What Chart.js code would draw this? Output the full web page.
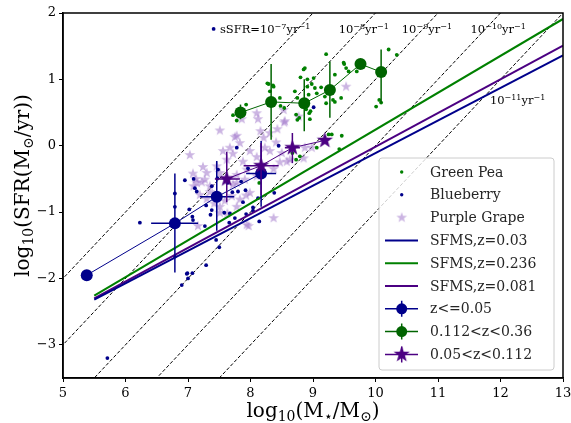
<!DOCTYPE html>
<html lang="en">
<head>
<meta charset="UTF-8">
<title>SFR - stellar mass</title>
<script src="https://cdn.jsdelivr.net/npm/chart.js"></script>
<style>
  html, body { margin: 0; padding: 0; background: #fff; }
  #wrap { width: 571px; height: 423px; position: relative; }
</style>
</head>
<body>
<div id="wrap"><canvas id="myChart"></canvas></div>
<script>
// ---- data (log10 M*, log10 SFR) ----
const gpX = [9.21, 8.87, 8.80, 8.29, 8.37, 8.47, 8.71, 8.75, 8.91, 8.98, 9.03, 9.06, 8.93, 8.82, 8.89, 8.96, 8.78, 9.13, 9.35, 9.50,
             9.53, 9.57, 9.35, 9.21, 7.78, 8.31, 8.48, 8.54, 8.85, 8.91, 9.49, 9.70, 10.21, 10.34, 10.06, 10.09, 10.01, 9.01, 9.19, 9.32,
             9.45, 9.46, 9.30, 9.42, 9.06, 8.73, 8.79, 8.67, 8.73, 8.75, 8.14, 9.25, 7.93, 8.27, 8.36, 8.94, 8.95, 7.72];
const gpY = [1.38, 1.17, 1.03, 0.93, 0.89, 0.72, 0.82, 0.72, 0.89, 0.93, 0.87, 0.79, 0.77, 0.59, 0.55, 0.52, 0.42, 0.88, 1.07, 1.23,
             1.17, 1.12, 0.66, 0.64, 0.38, 0.82, 0.60, 0.57, 1.15, 1.00, 1.25, 1.12, 1.45, 1.37, 0.69, 0.65, 0.59, 1.02, 0.74, 0.69,
             0.72, 0.15, 0.17, -0.05, -0.03, -0.21, -0.16, -0.11, 0.47, 0.39, -0.56, 0.17, 0.62, 0.94, 0.91, 0.49, 0.40, 0.46];

const bbX = [6.95, 6.79, 6.79, 6.79, 6.23, 7.02, 7.07, 7.08, 7.29, 7.36, 7.27, 7.45, 7.50, 7.29, 6.99, 7.07, 6.90, 7.47, 7.63, 7.71,
             7.80, 7.88, 7.67, 7.66, 7.75, 7.93, 8.04, 8.12, 7.38, 7.48, 7.11, 7.14, 7.38, 7.58, 7.85, 7.92, 8.04, 8.14, 8.38, 8.45,
             7.78, 7.41, 5.71, 6.98, 7.00, 9.01, 7.96, 7.09];
const bbY = [-0.52, -0.72, -0.92, -1.67, -1.16, -0.96, -1.07, -1.12, -0.90, -1.04, -1.21, -1.42, -1.53, -1.80, -1.92, -1.92, -2.10, -0.49, -0.56, -0.70,
             -0.69, -0.85, -1.02, -1.16, -1.09, -1.03, -0.98, -0.79, -0.61, -0.36, -0.64, -0.69, -0.97, -1.01, -0.54, -0.67, -0.93, -1.14, -0.71, 0.00,
             -0.03, 1.76, -3.20, -1.93, -2.00, 0.58, -0.34, -0.50];

const pgX = [8.10, 8.12, 7.51, 7.86, 8.54, 8.77, 8.43, 8.31, 8.16, 7.75, 7.83, 8.21, 8.41, 8.23, 7.67, 7.56, 7.72, 7.99, 8.10, 8.31,
             8.50, 8.63, 8.87, 8.47, 7.88, 7.62, 7.46, 7.24, 7.03, 7.08, 7.27, 7.51, 7.94, 8.37, 8.10, 7.91, 7.78, 7.35, 7.14, 7.72,
             7.30, 7.22, 7.13, 7.09, 7.35, 7.19, 7.30, 7.42, 7.51, 7.59, 7.70, 7.78, 7.83, 7.93, 7.99, 7.78, 7.63, 7.51, 7.94, 7.16,
             7.78, 8.37, 7.97, 8.58, 9.53, 8.98, 8.85, 8.53, 8.55];
const pgY = [0.49, 0.40, 0.23, 0.40, 0.35, 0.44, 0.25, 0.19, 0.22, 0.13, 0.04, 0.12, 0.05, -0.03, -0.03, -0.08, -0.12, -0.08, -0.17, -0.08,
             -0.11, -0.21, -0.03, -0.25, -0.24, -0.21, -0.31, -0.32, -0.14, -0.42, -0.51, -0.41, -0.36, -0.35, -0.46, -0.51, -0.44, -0.61, -0.56, -0.59,
             -0.41, -0.55, -0.50, -0.61, -0.70, -0.74, -0.80, -0.87, -0.92, -0.83, -0.76, -0.56, -0.81, -0.75, -0.71, -0.92, -1.02, -1.01, -1.19, -1.21,
             0.15, -1.09, -1.21, -0.24, 0.89, -0.03, -0.19, 0.54, 0.37];

// star-forming main sequences
const sfmsX = [5.5, 13];
const sfms003 = [-2.32, 1.36];
const sfms0236 = [-2.26, 1.91];
const sfms0081 = [-2.30, 1.51];

// constant sSFR lines (log10 sSFR)
const ssfrLogs = [-7, -8, -9, -10, -11];

// binned medians with error ranges
const lowZX = [5.38, 6.79, 7.46, 8.17];
const lowZY = [-1.95, -1.17, -0.77, -0.42];
const lowZXLo = [null, 6.41, 7.19, 7.93];
const lowZXHi = [null, 7.16, 7.74, 8.41];
const lowZYLo = [null, -1.91, -1.28, -0.92];
const lowZYHi = [null, -0.42, -0.23, 0.07];

const highZX = [7.84, 8.33, 8.86, 9.27, 9.76, 10.09];
const highZY = [0.50, 0.66, 0.64, 0.84, 1.23, 1.11];
const highZXLo = [null, null, null, null, null, null];
const highZXHi = [null, null, null, null, null, null];
const highZYLo = [0.40, 0.09, 0.22, 0.42, null, 0.64];
const highZYHi = [0.62, 1.23, 1.00, 1.27, null, 1.45];

const midZX = [7.62, 8.17, 8.67, 9.19];
const midZY = [-0.50, -0.30, -0.03, 0.08];
const midZXLo = [7.43, 7.89, 8.55, null];
const midZXHi = [7.83, 8.45, 8.79, null];
const midZYLo = [-0.85, -0.75, -0.26, null];
const midZYHi = [-0.09, 0.04, 0.19, null];

const xTicks = [5, 6, 7, 8, 9, 10, 11, 12, 13];
const yTicks = [-3, -2, -1, 0, 1, 2];

// ---- colours ----
const NAVY = '#00008B';
const GREEN = '#008000';
const DGREEN = '#006400';
const INDIGO = '#4B0082';
const LILAC = 'rgba(160,118,202,0.55)';
const SERIF = '"DejaVu Serif", serif';

// filled five point star as a point style
function makeStar(r, fill) {
    const s = Math.ceil(r * 2 + 2);
    const c = document.createElement('canvas');
    c.width = s; c.height = s;
    const g = c.getContext('2d');
    g.beginPath();
    for (let i = 0; i < 10; i++) {
        const a = -Math.PI / 2 + i * Math.PI / 5;
        const rr = i % 2 === 0 ? r : r * 0.4;
        g.lineTo(s / 2 + rr * Math.cos(a), s / 2 + rr * Math.sin(a));
    }
    g.closePath();
    g.fillStyle = fill;
    g.fill();
    return c;
}
const smallStar = makeStar(5.6, LILAC);
const bigStar = makeStar(8.5, INDIGO);

const pts = (xs, ys) => xs.map((x, i) => ({ x: x, y: ys[i] }));

// draw text runs with sub/superscripts; run = [text, scale, rise(em)]
function drawRuns(ctx, x, y, runs, size, align) {
    let w = 0;
    runs.forEach(r => { ctx.font = (size * r[1]) + 'px ' + SERIF; w += ctx.measureText(r[0]).width; });
    let cx = align === 'center' ? x - w / 2 : x;
    runs.forEach(r => {
        ctx.font = (size * r[1]) + 'px ' + SERIF;
        ctx.fillText(r[0], cx, y - r[2] * size);
        cx += ctx.measureText(r[0]).width;
    });
}

// error bars drawn just under the markers of their dataset
const errorBars = {
    id: 'errorBars',
    beforeDatasetDraw(chart, args) {
        const ds = chart.data.datasets[args.index];
        if (!ds.err) return;
        const { ctx, scales: { x, y } } = chart;
        const e = ds.err;
        ctx.save();
        ctx.beginPath();
        ctx.rect(chart.chartArea.left, chart.chartArea.top, chart.chartArea.width, chart.chartArea.height);
        ctx.clip();
        ctx.strokeStyle = ds.borderColor;
        ctx.lineWidth = 1.5;
        ds.data.forEach((p, i) => {
            const px = x.getPixelForValue(p.x), py = y.getPixelForValue(p.y);
            ctx.beginPath();
            if (e.xLo[i] !== null) {
                ctx.moveTo(x.getPixelForValue(e.xLo[i]), py);
                ctx.lineTo(x.getPixelForValue(e.xHi[i]), py);
            }
            if (e.yLo[i] !== null) {
                ctx.moveTo(px, y.getPixelForValue(e.yLo[i]));
                ctx.lineTo(px, y.getPixelForValue(e.yHi[i]));
            }
            ctx.stroke();
        });
        ctx.restore();
    }
};

// frame, labels, axis titles and legend
const decorations = {
    id: 'decorations',
    afterDraw(chart) {
        const { ctx, chartArea: a, scales: { x, y } } = chart;
        ctx.save();
        ctx.fillStyle = '#000';
        ctx.textBaseline = 'alphabetic';

        // sSFR labels
        const labX = [7.51, 9.41, 10.42, 11.52, 11.83];
        const labY = [1.70, 1.70, 1.70, 1.70, 0.63];
        ssfrLogs.forEach((s, i) => {
            const runs = [[(i === 0 ? 'sSFR=' : '') + '10', 1, 0], ['−' + (-s), 0.7, 0.38], ['yr', 1, 0], ['−1', 0.7, 0.38]];
            drawRuns(ctx, x.getPixelForValue(labX[i]), y.getPixelForValue(labY[i]), runs, 11.5, 'left');
        });

        // frame
        ctx.strokeStyle = '#000';
        ctx.lineWidth = 1.5;
        ctx.strokeRect(a.left, a.top, a.width, a.height);

        // axis titles
        drawRuns(ctx, (a.left + a.right) / 2, 417, [['log', 1, 0], ['10', 0.7, -0.22], ['(M', 1, 0], ['⋆', 0.7, -0.22], ['/M', 1, 0], ['⊙', 0.7, -0.22], [')', 1, 0]], 20, 'center');
        ctx.save();
        ctx.translate(29, (a.top + a.bottom) / 2 - 10);
        ctx.rotate(-Math.PI / 2);
        drawRuns(ctx, 0, 0, [['log', 1, 0], ['10', 0.7, -0.22], ['(SFR(M', 1, 0], ['⊙', 0.7, -0.22], ['/yr))', 1, 0]], 20, 'center');
        ctx.restore();

        // legend
        const bx = 379, by = 158, bw = 175, bh = 212;
        ctx.beginPath();
        ctx.roundRect(bx, by, bw, bh, 3);
        ctx.fillStyle = 'rgba(255,255,255,0.8)';
        ctx.fill();
        ctx.strokeStyle = '#cccccc';
        ctx.lineWidth = 1;
        ctx.stroke();

        const items = [
            ['Green Pea', 'dot', GREEN], ['Blueberry', 'dot', NAVY], ['Purple Grape', 'star', LILAC],
            ['SFMS,z=0.03', 'line', NAVY], ['SFMS,z=0.236', 'line', GREEN], ['SFMS,z=0.081', 'line', INDIGO],
            ['z<=0.05', 'bin', NAVY], ['0.112<z<0.36', 'bin', DGREEN], ['0.05<z<0.112', 'binstar', INDIGO]
        ];
        const mx = 401.7;
        items.forEach((it, i) => {
            const ry = 172 + i * 22.8;
            ctx.fillStyle = it[2];
            ctx.strokeStyle = it[2];
            if (it[1] === 'dot') {
                ctx.beginPath(); ctx.arc(mx, ry, 1.7, 0, 2 * Math.PI); ctx.fill();
            } else if (it[1] === 'star') {
                ctx.drawImage(smallStar, mx - smallStar.width / 2, ry - smallStar.height / 2);
            } else if (it[1] === 'line') {
                ctx.lineWidth = 2;
                ctx.beginPath(); ctx.moveTo(385, ry); ctx.lineTo(418, ry); ctx.stroke();
            } else {
                ctx.lineWidth = 1.5;
                ctx.beginPath(); ctx.moveTo(385, ry); ctx.lineTo(418, ry);
                ctx.moveTo(mx, ry - 8); ctx.lineTo(mx, ry + 8); ctx.stroke();
                if (it[1] === 'bin') {
                    ctx.beginPath(); ctx.arc(mx, ry, 5.5, 0, 2 * Math.PI); ctx.fill();
                } else {
                    ctx.drawImage(bigStar, mx - bigStar.width / 2, ry - bigStar.height / 2);
                }
            }
            ctx.fillStyle = '#262626';
            ctx.font = '14px ' + SERIF;
            ctx.textBaseline = 'middle';
            ctx.fillText(it[0], 430, ry + 1);
        });
        ctx.restore();
    }
};

const datasets = [];
// constant sSFR guide lines
ssfrLogs.forEach(s => {
    datasets.push({
        type: 'line', data: [{ x: 4, y: 4 + s }, { x: 14, y: 14 + s }],
        borderColor: '#000', borderWidth: 1, borderDash: [3.5, 2], pointRadius: 0, order: 10
    });
});
datasets.push({ type: 'scatter', label: 'Green Pea', data: pts(gpX, gpY), backgroundColor: GREEN, borderWidth: 0, pointRadius: 1.9, order: 6 });
datasets.push({ type: 'scatter', label: 'Blueberry', data: pts(bbX, bbY), backgroundColor: NAVY, borderWidth: 0, pointRadius: 1.9, order: 6 });
datasets.push({ type: 'scatter', label: 'Purple Grape', data: pts(pgX, pgY), pointStyle: smallStar, order: 7 });
datasets.push({ type: 'line', label: 'SFMS,z=0.03', data: pts(sfmsX, sfms003), borderColor: NAVY, borderWidth: 2, pointRadius: 0, order: 4 });
datasets.push({ type: 'line', label: 'SFMS,z=0.236', data: pts(sfmsX, sfms0236), borderColor: GREEN, borderWidth: 2, pointRadius: 0, order: 4 });
datasets.push({ type: 'line', label: 'SFMS,z=0.081', data: pts(sfmsX, sfms0081), borderColor: INDIGO, borderWidth: 2, pointRadius: 0, order: 4 });
datasets.push({
    type: 'line', label: 'z<=0.05', data: pts(lowZX, lowZY), borderColor: NAVY, backgroundColor: NAVY, borderWidth: 1,
    pointRadius: 6, pointBorderWidth: 0, order: 1, err: { xLo: lowZXLo, xHi: lowZXHi, yLo: lowZYLo, yHi: lowZYHi }
});
datasets.push({
    type: 'line', label: '0.112<z<0.36', data: pts(highZX, highZY), borderColor: DGREEN, backgroundColor: DGREEN, borderWidth: 1,
    pointRadius: 6, pointBorderWidth: 0, order: 1, err: { xLo: highZXLo, xHi: highZXHi, yLo: highZYLo, yHi: highZYHi }
});
datasets.push({
    type: 'line', label: '0.05<z<0.112', data: pts(midZX, midZY), borderColor: INDIGO, backgroundColor: INDIGO, borderWidth: 1,
    pointStyle: bigStar, order: 0, err: { xLo: midZXLo, xHi: midZXHi, yLo: midZYLo, yHi: midZYHi }
});

const tickFont = { family: SERIF, size: 13 };

new Chart(document.getElementById('myChart'), {
    data: { datasets: datasets },
    options: {
        responsive: true,
        maintainAspectRatio: false,
        animation: false,
        events: [],
        layout: { padding: { left: 0, right: 8, top: 13, bottom: 0 } },
        plugins: { legend: { display: false }, tooltip: { enabled: false } },
        scales: {
            x: {
                type: 'linear', min: 5, max: 13,
                afterBuildTicks: s => { s.ticks = xTicks.map(v => ({ value: v })); },
                afterFit: s => { s.height = 45; s.paddingLeft = 0; s.paddingRight = 0; },
                ticks: { font: tickFont, color: '#000', padding: 4, maxRotation: 0 },
                grid: { drawOnChartArea: false, drawTicks: true, tickLength: 4, color: '#000' },
                border: { color: '#000', width: 1.5 }
            },
            y: {
                type: 'linear', min: -3.5, max: 2,
                afterBuildTicks: s => { s.ticks = yTicks.map(v => ({ value: v })); },
                afterFit: s => { s.width = 63; s.paddingTop = 0; s.paddingBottom = 0; },
                ticks: { font: tickFont, color: '#000', padding: 3, callback: v => String(v).replace('-', '−') },
                grid: { drawOnChartArea: false, drawTicks: true, tickLength: 4, color: '#000' },
                border: { color: '#000', width: 1.5 }
            }
        }
    },
    plugins: [errorBars, decorations]
});
</script>
</body>
</html>
